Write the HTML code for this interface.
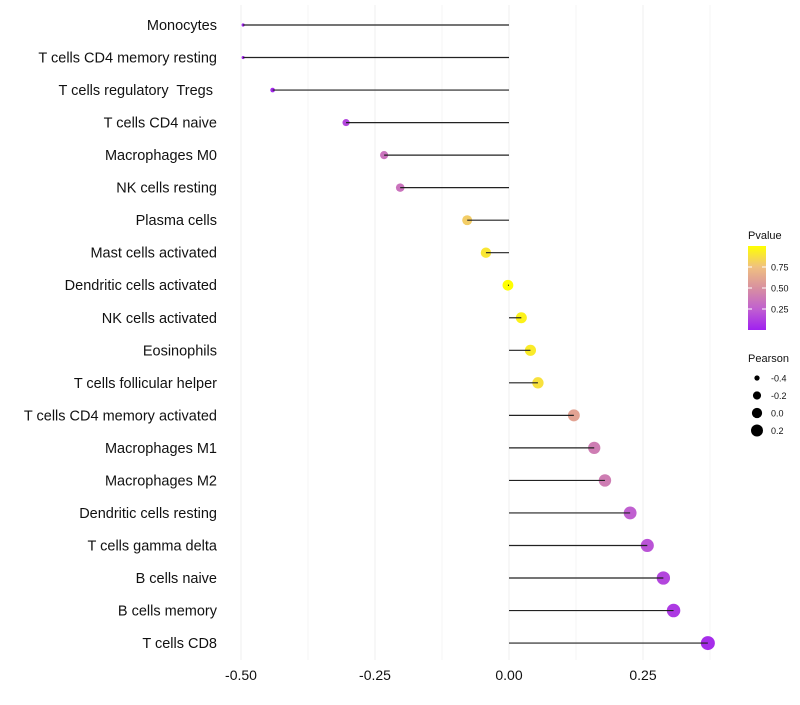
<!DOCTYPE html>
<html><head><meta charset="utf-8"><style>
body{margin:0;background:#fff;font-family:"Liberation Sans",sans-serif}
</style></head><body>
<svg id="chart" width="800" height="700" xmlns="http://www.w3.org/2000/svg" font-family="Liberation Sans, sans-serif"></svg>
<script>
const categories=["Monocytes","T cells CD4 memory resting","T cells regulatory  Tregs\u00a0","T cells CD4 naive","Macrophages M0","NK cells resting","Plasma cells","Mast cells activated","Dendritic cells activated","NK cells activated","Eosinophils","T cells follicular helper","T cells CD4 memory activated","Macrophages M1","Macrophages M2","Dendritic cells resting","T cells gamma delta","B cells naive","B cells memory","T cells CD8"];
const pearson=[-0.496,-0.496,-0.441,-0.304,-0.233,-0.203,-0.078,-0.043,-0.002,0.023,0.040,0.054,0.121,0.159,0.179,0.226,0.258,0.288,0.307,0.371];
const pvalue=[0.01,0.02,0.03,0.15,0.35,0.35,0.8,0.9,1.0,0.95,0.92,0.88,0.6,0.4,0.4,0.25,0.2,0.15,0.1,0.05];
const xTicks=[-0.5,-0.25,0,0.25];
const xTickLabels=["-0.50","-0.25","0.00","0.25"];
const legP=[0.25,0.5,0.75];
const legPLabels=["0.25","0.50","0.75"];
const legS=[-0.4,-0.2,0,0.2];
const legSLabels=["-0.4","-0.2","0.0","0.2"];

const svg=document.getElementById('chart');
const NS="http://www.w3.org/2000/svg";
function mk(t,a,p){const e=document.createElementNS(NS,t);for(const k in a)e.setAttribute(k,a[k]);(p||svg).appendChild(e);return e;}
const x=v=>509+v*536;
const y=i=>25+i*32.53;
const r=v=>Math.sqrt(Math.max(1,2.25+53.7*(v+0.5)));
const stops=[[0,[160,32,240]],[0.25,[192,96,208]],[0.5,[216,144,160]],[0.75,[240,192,128]],[1,[255,255,0]]];
function col(p){for(let i=1;i<stops.length;i++){if(p<=stops[i][0]){const a=stops[i-1],b=stops[i];const t=(p-a[0])/(b[0]-a[0]);const c=a[1].map((v,j)=>Math.round(v+(b[1][j]-v)*t));return `rgb(${c})`;}}return 'rgb(255,255,0)';}

const grid=mk('g',{});


[-0.5,-0.375,-0.25,-0.125,0,0.125,0.25,0.375].forEach(v=>{mk('line',{x1:x(v),x2:x(v),y1:5,y2:660,stroke:'#f0f0f0','stroke-width':(v*8)%2===0?1.1:0.6},grid);});

categories.forEach((c,i)=>{
  const t=mk('text',{x:217,y:y(i)+5,'text-anchor':'end','font-size':14.5,fill:'#111'});
  t.style.whiteSpace='pre';
  t.textContent=c;
  
  
  const pt=mk('circle',{cx:x(pearson[i]),cy:y(i),r:r(pearson[i]),fill:col(pvalue[i])});
  
  
  const ln=mk('line',{x1:x(0),x2:x(pearson[i]),y1:y(i),y2:y(i),stroke:'#222','stroke-width':1.2});
  
  
});
xTicks.forEach((v,i)=>{
  const t=mk('text',{x:x(v),y:680,'text-anchor':'middle','font-size':14,fill:'#111'});
  t.textContent=xTickLabels[i];
  
  
});
const defs=mk('defs',{});
const lg=mk('linearGradient',{id:'pg',x1:0,y1:1,x2:0,y2:0},defs);
stops.forEach(s=>mk('stop',{offset:s[0],'stop-color':col(s[0])},lg));
const lt=mk('text',{x:748,y:239,'font-size':11,fill:'#111'});lt.textContent='Pvalue';


const bar=mk('rect',{x:748,y:246,width:18,height:84,fill:'url(#pg)'});


legP.forEach((p,i)=>{const yy=330-p*84;mk('line',{x1:748,x2:752,y1:yy,y2:yy,stroke:'#fff'});mk('line',{x1:762,x2:766,y1:yy,y2:yy,stroke:'#fff'});
  const t=mk('text',{x:771,y:yy+3.5,'font-size':9,fill:'#111'});t.textContent=legPLabels[i];
  
  });
const st=mk('text',{x:748,y:362,'font-size':11,fill:'#111'});st.textContent='Pearson';


legS.forEach((v,i)=>{const yy=378+i*17.5;mk('circle',{cx:757,cy:yy,r:r(v)*0.95,fill:'#000'});
  const t=mk('text',{x:771,y:yy+3.5,'font-size':9,fill:'#111'});t.textContent=legSLabels[i];
  
  });
</script>
</body></html>
